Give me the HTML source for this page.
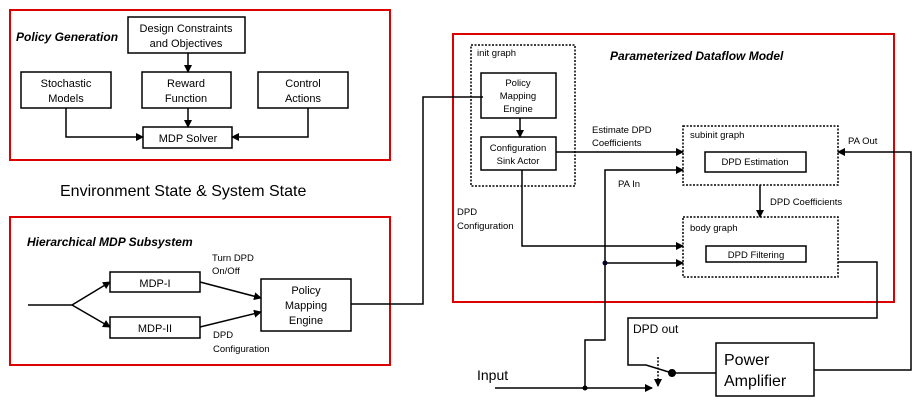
<!DOCTYPE html>
<html><head><style>
body{margin:0;background:#fff}
svg text{font-family:"Liberation Sans",sans-serif;fill:#000}
</style></head><body>
<svg width="919" height="404" viewBox="0 0 919 404" xmlns="http://www.w3.org/2000/svg">
<defs><marker id="a" markerWidth="8" markerHeight="8" refX="7" refY="4" orient="auto" markerUnits="userSpaceOnUse"><path d="M0,0L8,4L0,8z" fill="#000"/></marker></defs>
<g fill="none" stroke="#d00" stroke-width="2">
<rect x="10" y="10" width="380" height="150"/>
<rect x="10" y="217" width="380" height="148"/>
<rect x="453" y="34" width="441" height="268"/>
</g>
<g fill="#fff" stroke="#000" stroke-width="1.5">
<rect x="128" y="17" width="117" height="36"/>
<rect x="21" y="72" width="90" height="36"/>
<rect x="142" y="72" width="89" height="36"/>
<rect x="258" y="72" width="90" height="36"/>
<rect x="143" y="127" width="89" height="21"/>
<rect x="110" y="272" width="90" height="20"/>
<rect x="110" y="317" width="90" height="21"/>
<rect x="261" y="279" width="90" height="52"/>
<rect x="481" y="73" width="75" height="45"/>
<rect x="481" y="137" width="75" height="33"/>
<rect x="705" y="152" width="101" height="20"/>
<rect x="706" y="246" width="100" height="16"/>
<rect x="716" y="343" width="98" height="53"/>
</g>
<g fill="none" stroke="#000" stroke-width="1.5" stroke-dasharray="2,1.5">
<rect x="471" y="45" width="104" height="141"/>
<rect x="683" y="126" width="155" height="59"/>
<rect x="683" y="217" width="155" height="60"/>
<line x1="658" y1="357" x2="658" y2="386" marker-end="url(#a)"/>
</g>
<g fill="none" stroke="#000" stroke-width="1.5">
<line x1="188" y1="53" x2="188" y2="72" marker-end="url(#a)"/>
<line x1="188" y1="108" x2="188" y2="127" marker-end="url(#a)"/>
<polyline points="66,108 66,137 143,137" marker-end="url(#a)"/>
<polyline points="308,108 308,137 232,137" marker-end="url(#a)"/>
<polyline points="28,305 72,305 110,282" marker-end="url(#a)"/>
<line x1="72" y1="305" x2="110" y2="327" marker-end="url(#a)"/>
<line x1="200" y1="282" x2="261" y2="298" marker-end="url(#a)"/>
<line x1="200" y1="327" x2="261" y2="312" marker-end="url(#a)"/>
<polyline points="351,304 423,304 423,97 483,97"/>
<line x1="520" y1="118" x2="520" y2="137" marker-end="url(#a)"/>
<line x1="556" y1="152" x2="683" y2="152" marker-end="url(#a)"/>
<polyline points="605,263 605,170 683,170" marker-end="url(#a)"/>
<line x1="760" y1="185" x2="760" y2="217" marker-end="url(#a)"/>
<polyline points="522,170 522,246 683,246" marker-end="url(#a)"/>
<line x1="605" y1="263" x2="683" y2="263" marker-end="url(#a)"/>
<polyline points="605,263 605,340 585,340 585,388"/>
<line x1="495" y1="388" x2="652" y2="388" marker-end="url(#a)"/>
<polyline points="838,262 877,262 877,318 628,318 628,365 646,365 672,373"/>
<line x1="672" y1="373" x2="716" y2="373"/>
<polyline points="814,370 911,370 911,152 838,152" marker-end="url(#a)"/>
</g>
<circle cx="605" cy="263" r="2.5" fill="#002"/>
<circle cx="585" cy="388" r="2.5" fill="#000"/>
<circle cx="672" cy="373" r="4" fill="#000"/>
<g font-size="11" text-anchor="middle">
<text x="186" y="32">Design Constraints</text><text x="186" y="47">and Objectives</text>
<text x="66" y="87">Stochastic</text><text x="66" y="102">Models</text>
<text x="186" y="87">Reward</text><text x="186" y="102">Function</text>
<text x="303" y="87">Control</text><text x="303" y="102">Actions</text>
<text x="188" y="142">MDP Solver</text>
<text x="155" y="287">MDP-I</text><text x="155" y="332">MDP-II</text>
<text x="306" y="294">Policy</text><text x="306" y="309">Mapping</text><text x="306" y="324">Engine</text>
</g>
<g font-size="9.5" text-anchor="middle">
<text x="518" y="86">Policy</text><text x="518" y="99">Mapping</text><text x="518" y="112">Engine</text>
<text x="518" y="151">Configuration</text><text x="518" y="164">Sink Actor</text>
<text x="755" y="165">DPD Estimation</text>
<text x="756" y="258">DPD Filtering</text>
</g>
<g font-size="9.5">
<text x="212" y="261">Turn DPD</text><text x="212" y="274">On/Off</text>
<text x="213" y="338">DPD</text><text x="213" y="352">Configuration</text>
<text x="477" y="56">init graph</text>
<text x="592" y="133">Estimate DPD</text><text x="592" y="146">Coefficients</text>
<text x="690" y="138">subinit graph</text>
<text x="848" y="144">PA Out</text>
<text x="618" y="187">PA In</text>
<text x="457" y="215">DPD</text><text x="457" y="229">Configuration</text>
<text x="770" y="205">DPD Coefficients</text>
<text x="690" y="231">body graph</text>
</g>
<g font-weight="bold" font-style="italic">
<text x="16" y="41" font-size="12">Policy Generation</text>
<text x="27" y="246" font-size="12">Hierarchical MDP Subsystem</text>
<text x="610" y="60" font-size="12">Parameterized Dataflow Model</text>
</g>
<text x="60" y="196" font-size="16">Environment State &amp; System State</text>
<text x="633" y="333" font-size="12">DPD out</text>
<text x="477" y="380" font-size="14">Input</text>
<text x="724" y="365" font-size="16">Power</text>
<text x="724" y="386" font-size="16">Amplifier</text>
</svg>
</body></html>
